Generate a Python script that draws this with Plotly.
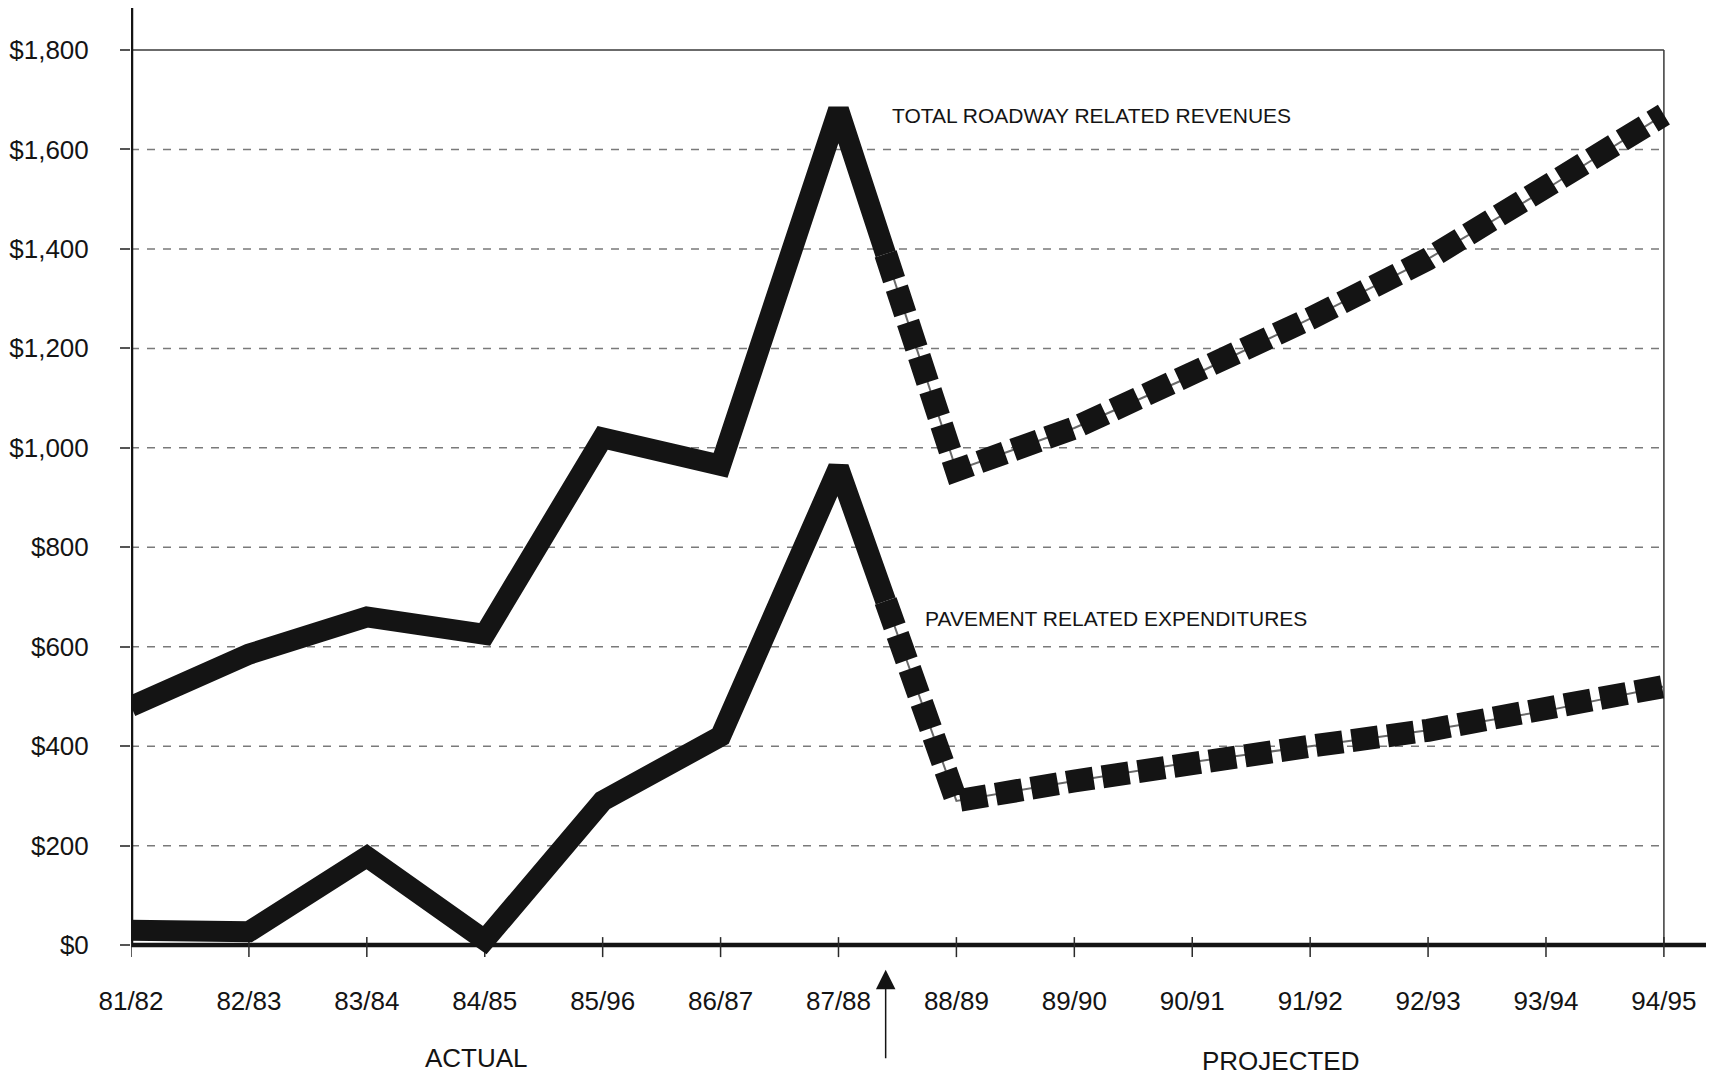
import numpy as np
import plotly.graph_objects as go

# Fiscal years along the x axis
years = ["81/82", "82/83", "83/84", "84/85", "85/96", "86/87", "87/88",
         "88/89", "89/90", "90/91", "91/92", "92/93", "93/94", "94/95"]

# Millions of dollars
revenues = [480, 585, 660, 625, 1020, 965, 1680,
            955, 1040, 1145, 1260, 1380, 1520, 1670]
expenditures = [30, 27, 178, 10, 290, 420, 960,
                290, 330, 368, 400, 432, 471, 520]

y_ticks = [0, 200, 400, 600, 800, 1000, 1200, 1400, 1600, 1800]
y_labels = ["$0", "$200", "$400", "$600", "$800", "$1,000",
            "$1,200", "$1,400", "$1,600", "$1,800"]

last_actual = 6      # index of 87/88, the last actual year
split_at = 6.4       # boundary between actual and projected (arrow position)

X_END = 13.357       # x axis line runs a little past the last year
Y_TOP = 1884.5       # y axis line runs above the $1,800 frame
Y_BOTTOM = -40

FONT = "Liberation Sans, Arial, Helvetica, sans-serif"
INK = "#141414"

idx = np.arange(len(years))
fig = go.Figure()


def add_series(values):
    v = np.asarray(values, dtype=float)
    y_split = float(np.interp(split_at, idx, v))
    xa = list(idx[:last_actual + 1]) + [split_at]
    ya = list(v[:last_actual + 1]) + [y_split]
    xp = [split_at] + list(idx[last_actual + 1:])
    yp = [y_split] + list(v[last_actual + 1:])
    # actual: heavy solid stroke
    fig.add_trace(go.Scatter(x=xa, y=ya, mode="lines", hoverinfo="skip",
                             line=dict(color=INK, width=21)))
    # projected: thin core line with heavy square dashes on top
    fig.add_trace(go.Scatter(x=xp, y=yp, mode="lines", hoverinfo="skip",
                             line=dict(color="#6a6a6a", width=2)))
    fig.add_trace(go.Scatter(x=xp, y=yp, mode="lines", hoverinfo="skip",
                             line=dict(color=INK, width=23, dash="27px,9px")))


add_series(revenues)
add_series(expenditures)

shapes = []
# dashed horizontal gridlines inside the frame
for v in y_ticks[1:-1]:
    shapes.append(dict(type="line", xref="x", yref="y", x0=0, x1=idx[-1],
                       y0=v, y1=v, layer="below",
                       line=dict(color="#7a7a7a", width=1.5, dash="8px,8px")))
# thin frame: top at $1,800 and right at the last year
shapes.append(dict(type="line", xref="x", yref="y", x0=0, x1=idx[-1],
                   y0=y_ticks[-1], y1=y_ticks[-1], layer="below",
                   line=dict(color="#3a3a3a", width=1.5)))
shapes.append(dict(type="line", xref="x", yref="y", x0=idx[-1], x1=idx[-1],
                   y0=0, y1=y_ticks[-1], layer="below",
                   line=dict(color="#3a3a3a", width=1.5)))
# heavy axes
shapes.append(dict(type="line", xref="x", yref="y", x0=0, x1=X_END,
                   y0=0, y1=0, layer="below", line=dict(color=INK, width=4.5)))
shapes.append(dict(type="line", xref="x", yref="y", x0=0, x1=0,
                   y0=0, y1=Y_TOP, layer="below", line=dict(color=INK, width=4.5)))
# tick marks crossing the x axis
for i in idx:
    shapes.append(dict(type="line", xref="x", yref="y", x0=i, x1=i,
                       ysizemode="pixel", yanchor=0, y0=-12, y1=8,
                       layer="below", line=dict(color="#2a2a2a", width=1.5)))

annotations = [
    dict(text="TOTAL ROADWAY RELATED REVENUES", xref="x", yref="y",
         x=6.437, y=1669, xanchor="left", yanchor="middle", showarrow=False,
         font=dict(size=21, family=FONT, color=INK)),
    dict(text="PAVEMENT RELATED EXPENDITURES", xref="x", yref="y",
         x=6.716, y=657, xanchor="left", yanchor="middle", showarrow=False,
         font=dict(size=21, family=FONT, color=INK)),
    dict(text="ACTUAL", xref="x", yref="paper", x=2.93, y=-0.097,
         xanchor="center", yanchor="middle", showarrow=False,
         font=dict(size=26, family=FONT, color=INK)),
    dict(text="PROJECTED", xref="x", yref="paper", x=9.75, y=-0.100,
         xanchor="center", yanchor="middle", showarrow=False,
         font=dict(size=26, family=FONT, color=INK)),
    # arrow marking the start of the projection
    dict(text="", xref="x", yref="paper", x=split_at, y=-0.005,
         ax=0, ay=90, axref="pixel", ayref="pixel", showarrow=True,
         arrowhead=2, arrowsize=2.6, arrowwidth=1.5, arrowcolor=INK),
]

fig.update_layout(
    width=1709, height=1080,
    margin=dict(l=131, r=3, t=8, b=115),
    paper_bgcolor="white", plot_bgcolor="white",
    showlegend=False,
    font=dict(family=FONT, color=INK),
    shapes=shapes,
    annotations=annotations,
)
fig.update_xaxes(range=[0, X_END], tickmode="array", tickvals=list(idx),
                 ticktext=years, showgrid=False, zeroline=False,
                 showline=False, ticks="", ticklabelstandoff=18,
                 tickfont=dict(size=26, family=FONT, color=INK))
fig.update_yaxes(range=[Y_BOTTOM, Y_TOP], tickmode="array", tickvals=y_ticks,
                 ticktext=y_labels, showgrid=False, zeroline=False,
                 showline=False, ticks="outside", ticklen=10, tickwidth=1.5,
                 tickcolor="#555555", ticklabelstandoff=26,
                 tickfont=dict(size=26, family=FONT, color=INK))

fig.write_html("out.html")
